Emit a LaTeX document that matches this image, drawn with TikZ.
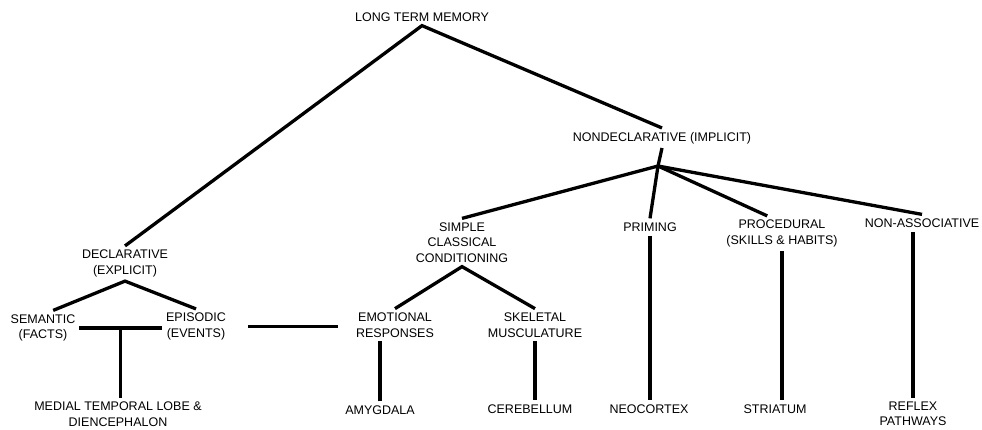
\documentclass[tikz,border=0pt]{standalone}
\usepackage{fontspec}
\setmainfont{Liberation Sans}
\usetikzlibrary{calc}

\begin{document}
\begin{tikzpicture}[x=1pt,y=-1pt,
	memtext/.style={align=center,inner sep=4pt,font=\fontsize{12.5}{15.5}\selectfont},
	branch/.style={line width=3.3pt}]
	\useasboundingbox (0,0) rectangle (982,429);
	
	% Define the memory types
	\node[memtext] (ltm) at (422,17) {LONG TERM MEMORY};
	\node[memtext] (nondecl) at (662,138) {NONDECLARATIVE (IMPLICIT)};
	\node[memtext] (decl) at (125,263.5) {DECLARATIVE\\(EXPLICIT)};
	\node[memtext] (simple) at (462,242.5) {SIMPLE\\CLASSICAL\\CONDITIONING};
	\node[memtext] (priming) at (650,227) {PRIMING};
	\node[memtext] (proc) at (782,233.5) {PROCEDURAL\\(SKILLS \& HABITS)};
	\node[memtext] (nonassoc) at (922,223) {NON-ASSOCIATIVE};
	\node[memtext] (semantic) at (43,328) {SEMANTIC\\(FACTS)};
	\node[memtext] (episodic) at (196,326.5) {EPISODIC\\(EVENTS)};
	\node[memtext] (emotional) at (395,325) {EMOTIONAL\\RESPONSES};
	\node[memtext] (skeletal) at (535,325) {SKELETAL\\MUSCULATURE};
	
	% Define the brain structures
	\node[memtext] (mtl) at (118,414) {MEDIAL TEMPORAL LOBE \&\\DIENCEPHALON};
	\node[memtext] (amyg) at (380,410) {AMYGDALA};
	\node[memtext] (cereb) at (530,409) {CEREBELLUM};
	\node[memtext] (neo) at (649,409) {NEOCORTEX};
	\node[memtext] (striatum) at (775,409) {STRIATUM};
	\node[memtext] (reflex) at (913,414) {REFLEX\\PATHWAYS};
	
	% Draw the branches
	\draw[branch] (decl.north) -- (ltm.south) -- (nondecl.north);
	\draw[branch] (semantic.60) -- (decl.south) -- (episodic.north);
	\draw[branch] (emotional.north) -- (simple.south) -- (skeletal.north);
	\coordinate (ndfork) at (658,166);
	\draw[branch] (nondecl.south) -- (ndfork);
	\draw[branch] (ndfork) -- (simple.north);
	\draw[branch] (ndfork) -- (priming.north);
	\draw[branch] (ndfork) -- (proc.130);
	\draw[branch] (ndfork) -- (nonassoc.north);
	
	% Link the memory types to the brain structures
	\draw[branch] (semantic.east) -- (semantic.east -| episodic.west);
	\coordinate (tjoin) at ($(semantic.east)!.5!(semantic.east -| episodic.west)$);
	\draw[branch] (tjoin) -- (tjoin |- mtl.north);
	\draw[branch,line width=3.7pt,shorten <=18pt,shorten >=14pt] (episodic.east) -- (episodic.east -| emotional.west);
	\draw[branch] (amyg.north) -- (amyg.north |- emotional.south);
	\draw[branch] (skeletal.south) -- (skeletal.south |- cereb.north);
	\draw[branch] (priming.south) -- (priming.south |- neo.north);
	\draw[branch] (proc.south) -- (proc.south |- striatum.north);
	\draw[branch] (reflex.north) -- (reflex.north |- nonassoc.south);
	
\end{tikzpicture}
\end{document}
